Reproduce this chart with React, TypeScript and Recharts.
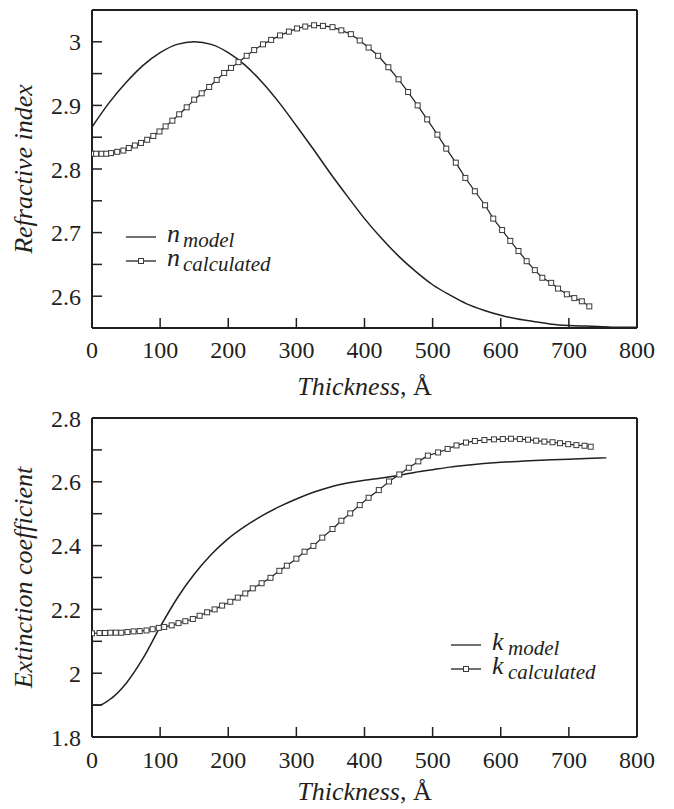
import { LineChart, Line, XAxis, YAxis, Legend, Label } from 'recharts'

const FONT = "'Liberation Serif', 'DejaVu Serif', serif"
const INK = '#231f20'

// thickness axis (Å)
const X_TICKS = [0, 100, 200, 300, 400, 500, 600, 700, 800]

// refractive index panel
const N_Y_TICKS = [2.6, 2.65, 2.7, 2.75, 2.8, 2.85, 2.9, 2.95, 3]
const N_MODEL_T = [
  0, 25, 50, 75, 100, 125, 150, 175, 200, 225, 250, 275, 300, 325, 350, 375, 400,
  425, 450, 475, 500, 525, 550, 575, 600, 625, 650, 675, 700, 725, 750, 775, 800,
]
const N_MODEL = [
  2.866, 2.904, 2.936, 2.963, 2.983, 2.996, 3.0, 2.996, 2.983, 2.963, 2.936, 2.904,
  2.868, 2.831, 2.793, 2.757, 2.722, 2.691, 2.663, 2.639, 2.618, 2.602, 2.588, 2.578,
  2.57, 2.564, 2.56, 2.556, 2.554, 2.553, 2.552, 2.551, 2.551,
]
const N_CALC_T = [
  0, 6, 14, 21, 28, 37, 46, 54, 63, 72, 81, 90, 99, 108, 118, 128, 139, 150, 161, 172,
  183, 194, 204, 215, 227, 238, 251, 263, 276, 289, 301, 313, 326, 339, 353, 366, 380,
  393, 406, 420, 435, 450, 464, 478, 492, 507, 520, 534, 548, 562, 577, 589, 602, 614,
  626, 638, 650, 661, 674, 684, 697, 708, 719, 730,
]
const N_CALC = [
  2.824, 2.824, 2.824, 2.824, 2.825, 2.827, 2.829, 2.833, 2.837, 2.841, 2.846, 2.852,
  2.859, 2.867, 2.876, 2.886, 2.897, 2.909, 2.919, 2.929, 2.94, 2.951, 2.959, 2.968,
  2.978, 2.987, 2.996, 3.003, 3.01, 3.016, 3.021, 3.024, 3.026, 3.025, 3.023, 3.018,
  3.012, 3.002, 2.991, 2.978, 2.96, 2.941, 2.921, 2.9, 2.878, 2.854, 2.832, 2.81,
  2.786, 2.765, 2.743, 2.722, 2.704, 2.687, 2.671, 2.655, 2.641, 2.629, 2.621, 2.612,
  2.603, 2.597, 2.592, 2.584,
]

// extinction coefficient panel
const K_Y_TICKS = [1.8, 1.9, 2, 2.1, 2.2, 2.3, 2.4, 2.5, 2.6, 2.7, 2.8]
const K_MODEL_T = [
  0, 10, 25, 50, 75, 100, 125, 150, 175, 200, 225, 250, 275, 300, 325, 350, 375, 400,
  425, 450, 475, 500, 525, 550, 575, 600, 625, 650, 675, 700, 725, 755,
]
const K_MODEL = [
  1.9, 1.9, 1.916, 1.968, 2.047, 2.145, 2.235, 2.31, 2.372, 2.422, 2.461, 2.494, 2.522,
  2.546, 2.567, 2.584, 2.596, 2.605, 2.612, 2.62, 2.63, 2.638, 2.646, 2.652, 2.657,
  2.661, 2.664, 2.667, 2.669, 2.671, 2.673, 2.675,
]
const K_CALC_T = [
  0, 11, 19, 27, 35, 43, 52, 61, 70, 80, 89, 98, 106, 117, 127, 137, 148, 158, 169, 180,
  191, 203, 214, 225, 236, 249, 262, 275, 286, 300, 312, 325, 338, 353, 366, 379, 393,
  406, 421, 436, 451, 465, 479, 493, 508, 522, 535, 549, 562, 576, 590, 603, 615, 628,
  640, 652, 664, 676, 687, 699, 711, 723, 732,
]
const K_CALC = [
  2.125, 2.126, 2.126, 2.127, 2.127, 2.127, 2.129, 2.131, 2.132, 2.134, 2.138, 2.142,
  2.145, 2.15, 2.157, 2.163, 2.17, 2.18, 2.191, 2.2, 2.212, 2.224, 2.237, 2.25, 2.266,
  2.282, 2.299, 2.321, 2.337, 2.359, 2.381, 2.399, 2.425, 2.452, 2.478, 2.501, 2.527,
  2.55, 2.574, 2.601, 2.623, 2.644, 2.664, 2.682, 2.692, 2.703, 2.714, 2.723, 2.728,
  2.731, 2.733, 2.734, 2.735, 2.734, 2.732, 2.729, 2.726, 2.724, 2.721, 2.718, 2.715,
  2.713, 2.71,
]

const zip = (ts: number[], vs: number[]) => ts.map((t, i) => ({ t, v: vs[i] }))

const tickStyle = { fontSize: 24, fill: INK, fontFamily: FONT, style: { fontFamily: FONT } }
const axisStyle = { stroke: INK, strokeWidth: 2 }
const tickLineStyle = { stroke: INK, strokeWidth: 1.5 }

const renderSquare = (props: any) => {
  const { cx, cy, index } = props
  if (cx == null || cy == null) return <g key={`sq-${index}`} />
  return (
    <rect
      key={`sq-${index}`}
      x={cx - 2.5}
      y={cy - 2.5}
      width={5}
      height={5}
      fill="#fff"
      stroke="#3a3a3a"
      strokeWidth={1}
    />
  )
}

function SubLegend({ payload }: { payload?: any[] }) {
  // plain line entry first, marker entry second
  const items = [...(payload ?? [])].sort((a, b) => (a.type === 'line' ? 0 : 1) - (b.type === 'line' ? 0 : 1))
  return (
    <svg width={260} height={56} style={{ display: 'block', overflow: 'visible' }}>
      {items.map((item, i) => {
        const y = 15 + i * 24
        const [main, sub] = String(item.value).split('_')
        return (
          <g key={item.value}>
            <line x1={6} x2={36} y1={y} y2={y} stroke={INK} strokeWidth={1.3} />
            {item.type === 'square' && (
              <rect x={18.5} y={y - 2.5} width={5} height={5} fill="#fff" stroke="#3a3a3a" />
            )}
            <text x={47} y={y + 5} style={{ fontFamily: FONT }} fontStyle="italic" fontSize={26} fill={INK}>
              {main}
            </text>
            <text x={63} y={y + 10} style={{ fontFamily: FONT }} fontStyle="italic" fontSize={21} fill={INK}>
              {sub}
            </text>
          </g>
        )
      })}
    </svg>
  )
}

const renderXTitle = (dy: number) => (props: any) => {
  const { x, y, width } = props.viewBox
  return (
    <text x={x + width / 2} y={y + dy} textAnchor="middle" style={{ fontFamily: FONT }} fontSize={26} fill={INK}>
      <tspan fontStyle="italic">Thickness</tspan>, Å
    </text>
  )
}

const renderYTitle = (title: string) => (props: any) => {
  const { x, y, height } = props.viewBox
  const cx = x + 32
  const cy = y + height / 2
  return (
    <text
      x={cx}
      y={cy}
      transform={`rotate(-90 ${cx} ${cy})`}
      textAnchor="middle"
      style={{ fontFamily: FONT }}
      fontStyle="italic"
      fontSize={26}
      fill={INK}
    >
      {title}
    </text>
  )
}

interface PanelProps {
  height: number
  top: number
  domain: [number, number]
  yTicks: number[]
  yFormat: (v: number) => string
  model: { t: number; v: number }[]
  calc: { t: number; v: number }[]
  modelName: string
  calcName: string
  yTitle: string
  xTitleDy: number
  xTickMargin: number
  legendPos: { left: number; top: number }
}

function Panel(p: PanelProps) {
  return (
    <LineChart
      width={674}
      height={p.height}
      margin={{ top: p.top, right: 36, bottom: 0, left: 0 }}
      style={{ fontFamily: FONT }}
    >
      <XAxis
        dataKey="t"
        type="number"
        domain={[0, 800]}
        ticks={X_TICKS}
        interval={0}
        height={72}
        tick={tickStyle}
        tickSize={-10}
        tickMargin={p.xTickMargin}
        tickLine={tickLineStyle}
        axisLine={axisStyle}
        allowDataOverflow
        label={<Label content={renderXTitle(p.xTitleDy)} />}
      />
      <XAxis
        xAxisId="top"
        orientation="top"
        type="number"
        domain={[0, 800]}
        height={1}
        tick={false}
        tickLine={false}
        axisLine={axisStyle}
      />
      <YAxis
        type="number"
        domain={p.domain}
        ticks={p.yTicks}
        interval={0}
        width={92}
        tick={tickStyle}
        tickSize={-10}
        tickMargin={21}
        tickLine={tickLineStyle}
        axisLine={axisStyle}
        tickFormatter={p.yFormat}
        allowDataOverflow
        label={<Label content={renderYTitle(p.yTitle)} />}
      />
      <YAxis
        yAxisId="r"
        orientation="right"
        type="number"
        domain={p.domain}
        ticks={p.yTicks}
        interval={0}
        width={1}
        tick={false}
        tickSize={-10}
        tickLine={tickLineStyle}
        axisLine={axisStyle}
      />
      <Legend
        layout="horizontal"
        align="center"
        verticalAlign="middle"
        wrapperStyle={{ left: p.legendPos.left, top: p.legendPos.top, width: 260 }}
        content={(props: any) => <SubLegend payload={props.payload} />}
      />
      <Line
        data={p.model}
        dataKey="v"
        name={p.modelName}
        type="monotone"
        stroke={INK}
        strokeWidth={1.5}
        dot={false}
        activeDot={false}
        legendType="line"
        isAnimationActive={false}
      />
      <Line
        data={p.calc}
        dataKey="v"
        name={p.calcName}
        type="linear"
        stroke={INK}
        strokeWidth={1.2}
        dot={renderSquare}
        activeDot={false}
        legendType="square"
        isAnimationActive={false}
      />
    </LineChart>
  )
}

const nFormat = (v: number) =>
  Math.abs(v * 10 - Math.round(v * 10)) < 1e-6 ? String(+v.toFixed(1)) : ''
const kFormat = (v: number) =>
  Math.abs(v * 5 - Math.round(v * 5)) < 1e-6 ? String(+v.toFixed(1)) : ''

export default function App() {
  return (
    <div
      style={{
        position: 'absolute',
        left: 0,
        top: 0,
        width: 674,
        height: 809,
        background: '#fff',
        fontFamily: FONT,
      }}
    >
      <div style={{ position: 'absolute', left: 0, top: 0 }}>
        <Panel
          height={400}
          top={9}
          domain={[2.55, 3.05]}
          yTicks={N_Y_TICKS}
          yFormat={nFormat}
          model={zip(N_MODEL_T, N_MODEL)}
          calc={zip(N_CALC_T, N_CALC)}
          modelName="n_model"
          calcName="n_calculated"
          yTitle="Refractive index"
          xTitleDy={67}
          xTickMargin={23}
          legendPos={{ left: 120, top: 222 }}
        />
      </div>
      <div style={{ position: 'absolute', left: 0, top: 400 }}>
        <Panel
          height={409}
          top={17}
          domain={[1.8, 2.8]}
          yTicks={K_Y_TICKS}
          yFormat={kFormat}
          model={zip(K_MODEL_T, K_MODEL)}
          calc={zip(K_CALC_T, K_CALC)}
          modelName="k_model"
          calcName="k_calculated"
          yTitle="Extinction coefficient"
          xTitleDy={63}
          xTickMargin={24}
          legendPos={{ left: 445, top: 230 }}
        />
      </div>
    </div>
  )
}
